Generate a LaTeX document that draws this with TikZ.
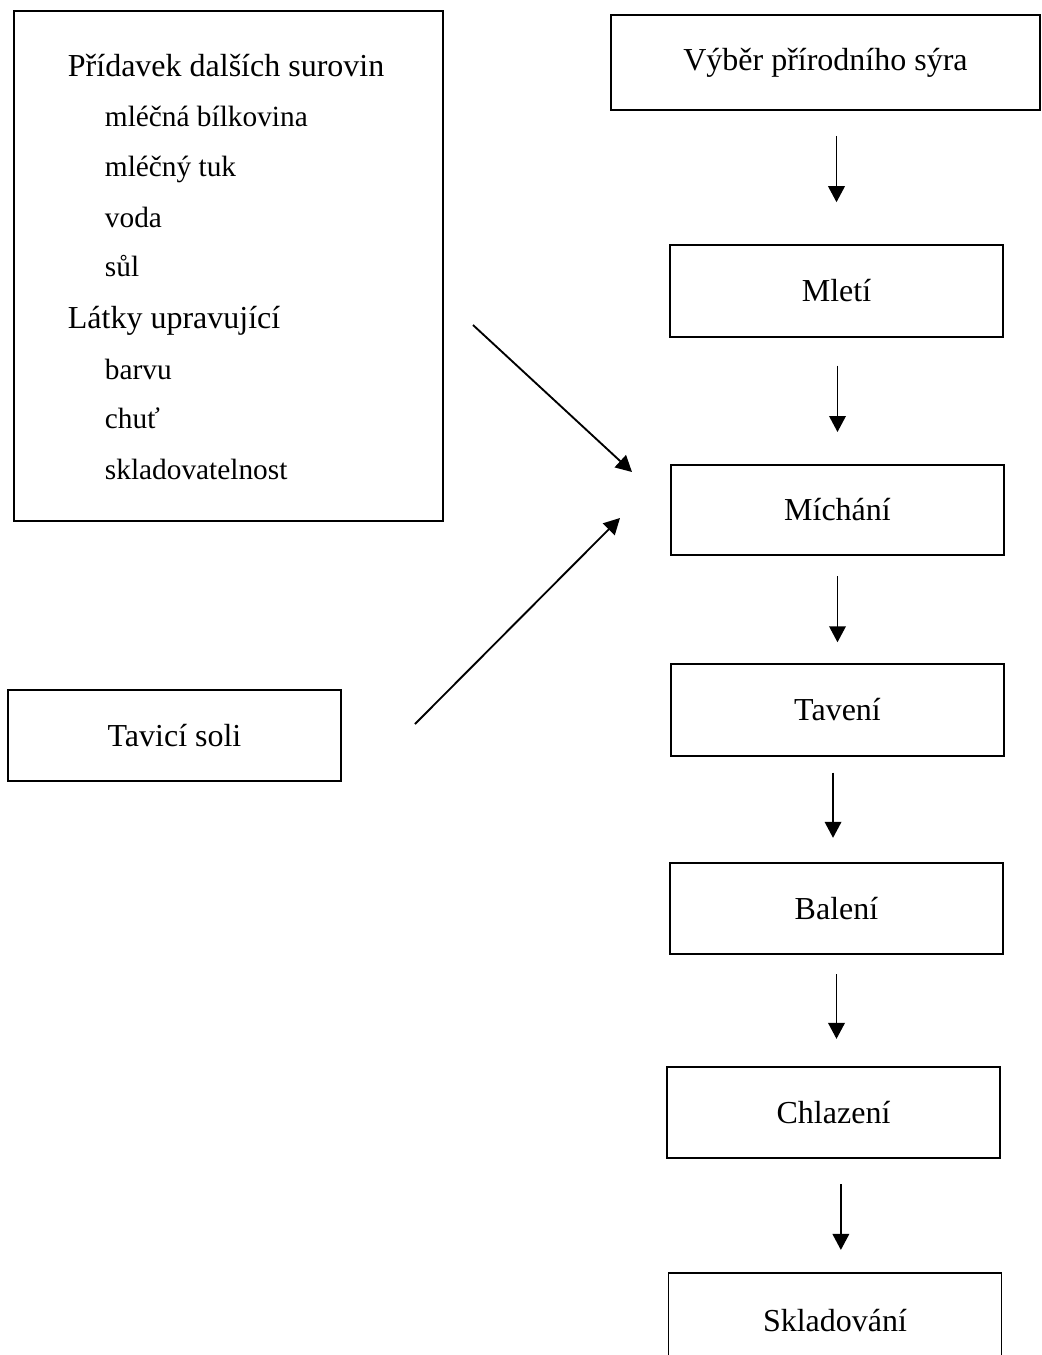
\documentclass[tikz,border=0pt]{standalone}
\usepackage{fontspec}
\setmainfont{Liberation Serif}
\usetikzlibrary{arrows.meta}

\begin{document}
\begin{tikzpicture}[x=0.375pt,y=-0.375pt,line width=0.7pt,
    >={Triangle[length=6pt,width=6.2pt]},
    stepbox/.style={draw,rectangle,inner sep=0pt,minimum width=124.9pt,minimum height=34.3pt,font=\fontsize{12}{14}\selectfont},
    head item/.style={anchor=base west,inner sep=0pt,font=\fontsize{12}{14}\selectfont},
    sub item/.style={anchor=base west,inner sep=0pt,font=\fontsize{11}{13}\selectfont},
    flow/.style={->}]
    \useasboundingbox (0,0) rectangle (1042,1355);
    \clip (0,0) rectangle (1042,1355);

    % main line of the process
    \node[stepbox,minimum width=160.9pt,minimum height=35.6pt] (vyber) at (825.5,62.5) {Výběr přírodního sýra};
    \node[stepbox] (mleti) at (836.5,291) {Mletí};
    \node[stepbox,minimum height=33.8pt] (michani) at (837.5,510) {Míchání};
    \node[stepbox] (taveni) at (837.5,710) {Tavení};
    \node[stepbox] (baleni) at (836.5,908.5) {Balení};
    \node[stepbox] (chlazeni) at (833.5,1112.5) {Chlazení};
    \node[stepbox,minimum height=36pt] (skladovani) at (835,1321) {Skladování};

    % what goes into the mixing
    \node[draw,rectangle,inner sep=0pt,minimum width=160.9pt,minimum height=191.3pt] (prisady) at (228.5,266) {};
    \node[head item] (pridavek) at (67,76) {Přídavek dalších surovin};
    \node[sub item] (bilkovina) at (104,126) {mléčná bílkovina};
    \node[sub item] (tuk) at (104,176) {mléčný tuk};
    \node[sub item] (voda) at (104,227) {voda};
    \node[sub item] (sul) at (104,276) {sůl};
    \node[head item] (latky) at (67,328) {Látky upravující};
    \node[sub item] (barvu) at (104,379) {barvu};
    \node[sub item] (chut) at (104,428) {chuť};
    \node[sub item] (sklad) at (104,479) {skladovatelnost};

    \node[stepbox] (tavici) at (174.5,735.5) {Tavicí soli};

    \coordinate (fromprisady) at (473,325);
    \coordinate (intomix1) at (632,472);
    \coordinate (fromsoli) at (415,724);
    \coordinate (intomix2) at (620,518);

    \path[flow]
        (mleti.north |- vyber.south) edge[shorten <=9.4pt,shorten >=15.8pt] (mleti.north)
        (michani.north |- mleti.south) edge[shorten <=10.5pt,shorten >=12pt] (michani.north)
        (taveni.north |- michani.south) edge[shorten <=7.5pt,shorten >=7.9pt] (taveni.north)
        ([xshift=-1.3pt]baleni.north |- taveni.south) edge[shorten <=6pt,shorten >=9pt] ([xshift=-1.3pt]baleni.north)
        (baleni.south) edge[shorten <=7.1pt,shorten >=10.1pt] (baleni.south |- chlazeni.north)
        ([xshift=2.2pt]skladovani.north |- chlazeni.south) edge[shorten <=9.4pt,shorten >=8.3pt] ([xshift=2.2pt]skladovani.north)
        (fromprisady) edge (intomix1)
        (fromsoli) edge (intomix2)
    ;

\end{tikzpicture}
\end{document}
